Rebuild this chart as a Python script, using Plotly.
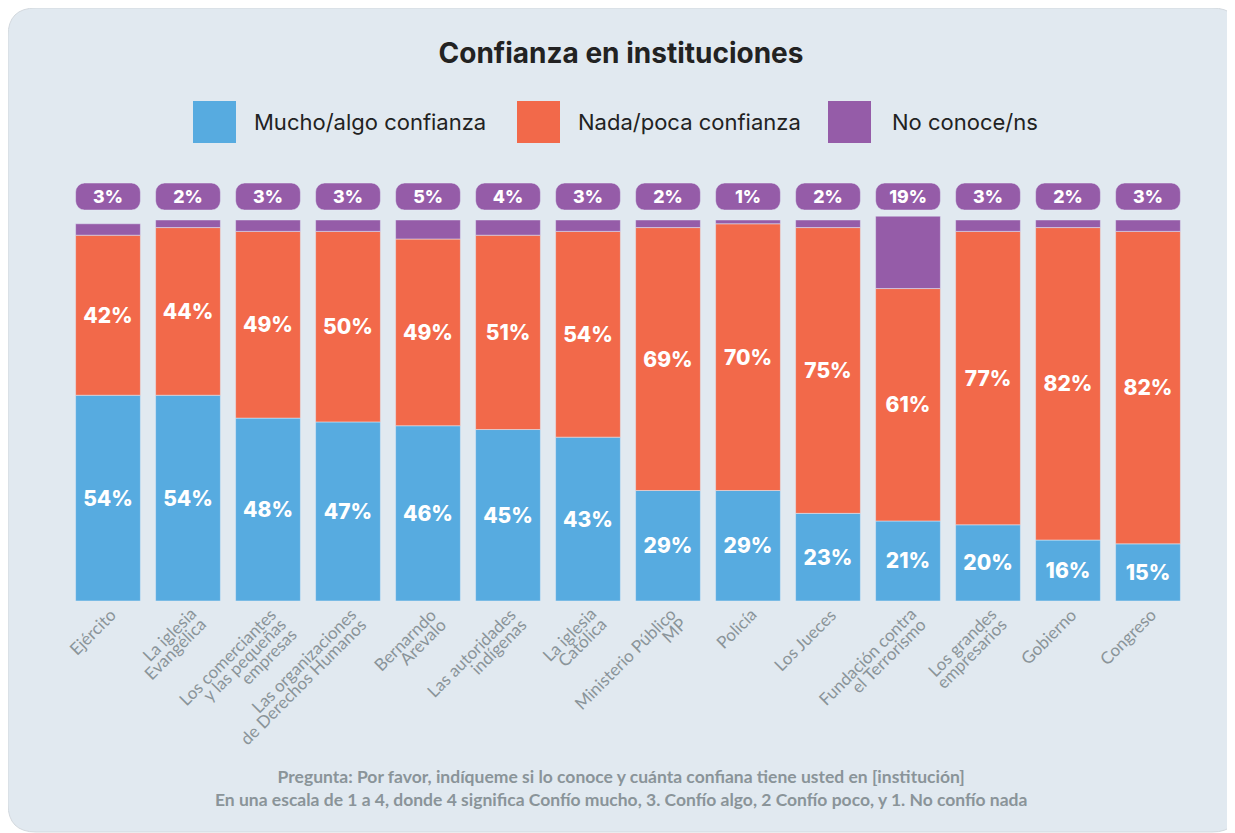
import plotly.graph_objects as go

# Datos
instituciones = [
    "Ejército",
    "La iglesia<br>Evangélica",
    "Los comerciantes<br>y las pequeñas<br>empresas",
    "Las organizaciones<br>de Derechos Humanos",
    "Bernarndo<br>Arevalo",
    "Las autoridades<br>indígenas",
    "La iglesia<br>Católica",
    "Ministerio Público<br>MP",
    "Policía",
    "Los Jueces",
    "Fundación contra<br>el Terrorismo",
    "Los grandes<br>empresarios",
    "Gobierno",
    "Congreso",
]
mucho_algo = [54, 54, 48, 47, 46, 45, 43, 29, 29, 23, 21, 20, 16, 15]
nada_poca = [42, 44, 49, 50, 49, 51, 54, 69, 70, 75, 61, 77, 82, 82]
no_conoce = [3, 2, 3, 3, 5, 4, 3, 2, 1, 2, 19, 3, 2, 3]

series = ["Mucho/algo confianza", "Nada/poca confianza", "No conoce/ns"]
colores = ["#57ABE0", "#F2694A", "#955CA8"]

# la página añade 8 px de margen: coordenadas de pantalla -> figura
OFF = 8
W, H = 1235, 833
PL, PR, PT, PB = 68, 1188, 175, 601   # área del gráfico en pantalla
PW, PH = PR - PL, PB - PT
YMAX = 111.8


def px_x(sx):
    return (sx - PL) / PW


def px_y(sy):
    return (PB - sy) / PH


bold_font = dict(family="Inter, Roboto, sans-serif", size=21, color="white", weight=800)

base_nada = mucho_algo
base_ns = [a + b for a, b in zip(mucho_algo, nada_poca)]

fig = go.Figure()
fig.add_bar(
    x=instituciones, y=mucho_algo, base=[0] * len(mucho_algo),
    marker_color=colores[0], name=series[0],
    text=[f"{v}%" for v in mucho_algo], textposition="inside",
    insidetextanchor="middle", textangle=0, textfont=bold_font,
)
fig.add_bar(
    x=instituciones, y=nada_poca, base=base_nada,
    marker_color=colores[1], name=series[1],
    text=[f"{v}%" for v in nada_poca], textposition="inside",
    insidetextanchor="middle", textangle=0, textfont=bold_font,
)
fig.add_bar(
    x=instituciones, y=no_conoce, base=base_ns,
    marker_color=colores[2], name=series[2], textposition="none",
)
# etiquetas "No conoce/ns" en pastillas redondeadas
fig.add_bar(
    x=instituciones, y=[7.1] * len(no_conoce), base=[102.6] * len(no_conoce),
    marker=dict(color=colores[2], cornerradius=9),
    text=[f"{v}%" for v in no_conoce], textposition="inside",
    insidetextanchor="middle", textangle=0, textfont=bold_font,
    constraintext="none", showlegend=False, hoverinfo="skip",
)

# tarjeta de fondo redondeada
x0, x1, y0, y1 = px_x(8), px_x(1240), px_y(8), px_y(832)
rx, ry = 28 / PW, 28 / PH
card = (
    f"M {x0+rx},{y0} L {x1-rx},{y0} Q {x1},{y0} {x1},{y0-ry} "
    f"L {x1},{y1+ry} Q {x1},{y1} {x1-rx},{y1} "
    f"L {x0+rx},{y1} Q {x0},{y1} {x0},{y1+ry} "
    f"L {x0},{y0-ry} Q {x0},{y0} {x0+rx},{y0} Z"
)
shapes = [dict(type="path", path=card, xref="paper", yref="paper",
               fillcolor="#E1E9F0", line=dict(color="#D3D9DE", width=1), layer="below")]

# leyenda personalizada
annotations = []
leyenda_x = [(193, 252), (517, 576), (828, 890)]
for (sx, tx), nombre, col in zip(leyenda_x, series, colores):
    shapes.append(dict(type="rect", xref="paper", yref="paper",
                       x0=px_x(sx), x1=px_x(sx + 43), y0=px_y(143), y1=px_y(101),
                       fillcolor=col, line_width=0))
    annotations.append(dict(text=nombre, xref="paper", yref="paper",
                            x=px_x(tx), y=px_y(122), xanchor="left", yanchor="middle",
                            showarrow=False,
                            font=dict(family="Inter, sans-serif", size=22, color="#222")))

# etiquetas del eje x: giradas, una anotación por línea, alineadas a la derecha
TICK_FS = 17
LINE_STEP = 10  # desplazamiento (px) en x e y entre líneas
for nombre in instituciones:
    for k, linea in enumerate(nombre.split("<br>")):
        annotations.append(dict(
            text=linea, x=nombre, xref="x", y=px_y(601), yref="paper",
            xanchor="right", yanchor="top", textangle=-45,
            xshift=15 + LINE_STEP * k, yshift=-LINE_STEP * k, showarrow=False,
            font=dict(family="Lato, sans-serif", size=TICK_FS, color="#8A9499"),
        ))

annotations.append(dict(
    text="Pregunta: Por favor, indíqueme si lo conoce y cuánta confiana tiene usted en [institución]"
         "<br>En una escala de 1 a 4, donde 4 significa Confío mucho, 3. Confío algo, 2 Confío poco, y 1. No confío nada",
    xref="paper", yref="paper", x=px_x(621), y=px_y(788), xanchor="center", yanchor="middle",
    showarrow=False, align="center",
    font=dict(family="Lato, sans-serif", size=17.5, color="#8A9499", weight=700),
))

fig.update_layout(
    width=W, height=H,
    margin=dict(l=PL - OFF, r=W - (PR - OFF), t=PT - OFF, b=H - (PB - OFF)),
    paper_bgcolor="white", plot_bgcolor="rgba(0,0,0,0)",
    barmode="overlay", bargap=0.19,
    showlegend=False,
    title=dict(text="Confianza en instituciones", x=px_x(621), xref="paper",
               y=1 - (53 - OFF) / H, xanchor="center", yanchor="middle",
               font=dict(family="Inter, sans-serif", size=28, color="#222", weight=700)),
    shapes=shapes, annotations=annotations,
    font=dict(family="Lato, sans-serif"),
)
fig.update_xaxes(range=[-0.5, len(instituciones) - 0.5], showticklabels=False,
                 showgrid=False, showline=False, ticks="")
fig.update_yaxes(range=[0, YMAX], visible=False)

fig.write_html("out.html")
